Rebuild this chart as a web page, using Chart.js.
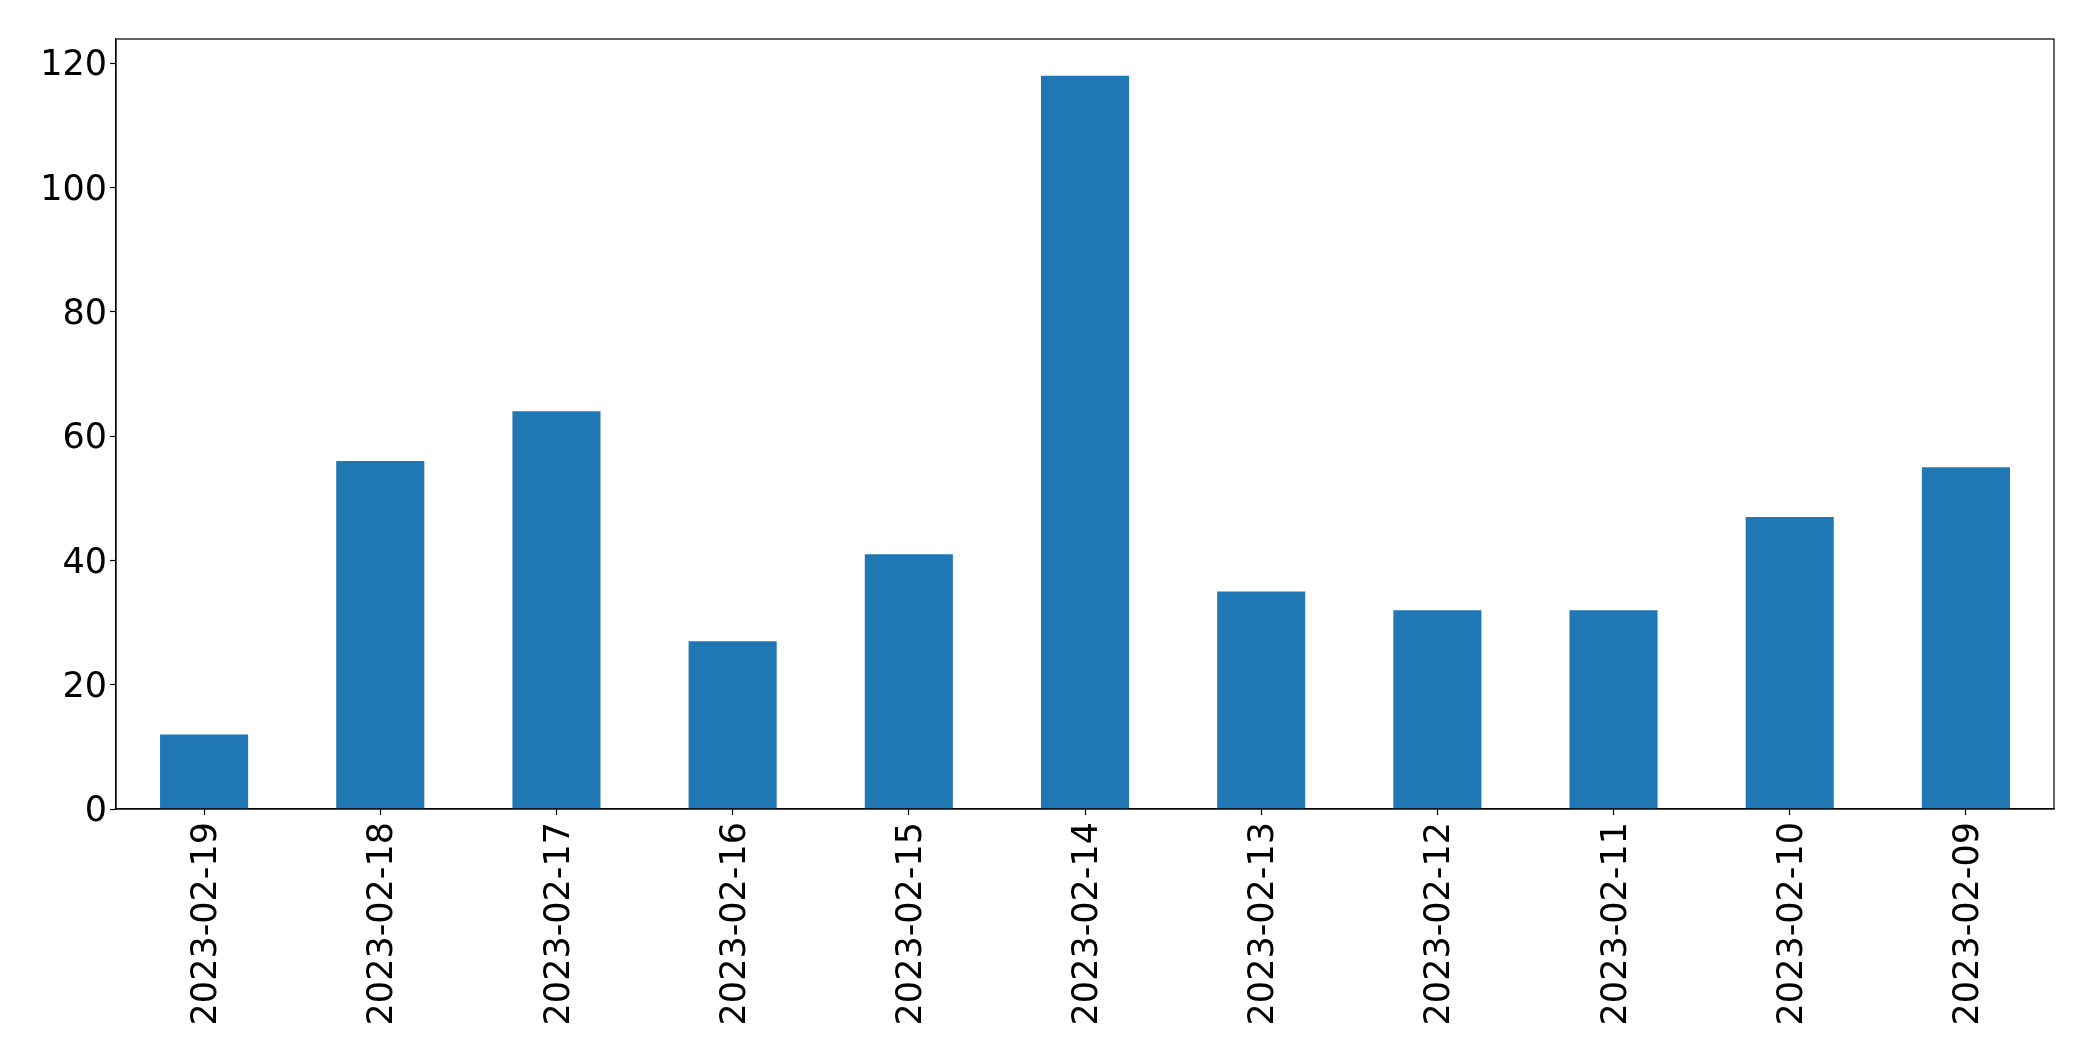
<!DOCTYPE html>
<html>
<head>
<meta charset="utf-8">
<script src="https://cdn.jsdelivr.net/npm/chart.js@4.4.0/dist/chart.umd.min.js"></script>
<style>
  body { margin: 0; background: #fff; }
</style>
</head>
<body>
<canvas id="grafico" width="2093" height="1061"></canvas>
<script>
const fechas = ['2023-02-19', '2023-02-18', '2023-02-17', '2023-02-16', '2023-02-15', '2023-02-14',
  '2023-02-13', '2023-02-12', '2023-02-11', '2023-02-10', '2023-02-09'];
const conteos = [12, 56, 64, 27, 41, 118, 35, 32, 32, 47, 55];
const yMax = 123.9;
const yPaso = 20;

const fuente = { family: 'DejaVu Sans', size: 35 };

// marco completo alrededor del area de trazado (como matplotlib)
const marco = {
  id: 'marco',
  afterDraw(chart) {
    const { ctx, chartArea: a } = chart;
    ctx.save();
    ctx.strokeStyle = '#000';
    ctx.lineWidth = 1.2;
    ctx.strokeRect(a.left, a.top, a.right - a.left, a.bottom - a.top);
    ctx.restore();
  }
};

const ctx = document.getElementById('grafico').getContext('2d');
new Chart(ctx, {
  type: 'bar',
  data: {
    labels: fechas,
    datasets: [{
      data: conteos,
      backgroundColor: '#1f77b4',
      barPercentage: 0.5,
      categoryPercentage: 1.0
    }]
  },
  options: {
    responsive: false,
    animation: false,
    devicePixelRatio: 1,
    layout: { padding: { left: 0, right: 39, top: 39, bottom: 0 } },
    plugins: { legend: { display: false }, tooltip: { enabled: false } },
    scales: {
      x: {
        offset: true,
        grid: { offset: false, drawOnChartArea: false, drawTicks: true, tickLength: 6, tickColor: '#000', tickWidth: 1.2 },
        border: { color: '#000', width: 1.2 },
        ticks: { color: '#000', font: fuente, maxRotation: 90, minRotation: 90, padding: 7, labelOffset: 3 },
        afterFit: scale => { scale.height = 252; }
      },
      y: {
        min: 0,
        max: yMax,
        grid: { drawOnChartArea: false, drawTicks: true, tickLength: 6, tickColor: '#000', tickWidth: 1.2 },
        border: { color: '#000', width: 1.2 },
        ticks: { color: '#000', font: fuente, stepSize: yPaso, includeBounds: false, padding: 3, labelOffset: 3 },
        afterFit: scale => { scale.width = 116; }
      }
    }
  },
  plugins: [marco]
});
</script>
</body>
</html>
